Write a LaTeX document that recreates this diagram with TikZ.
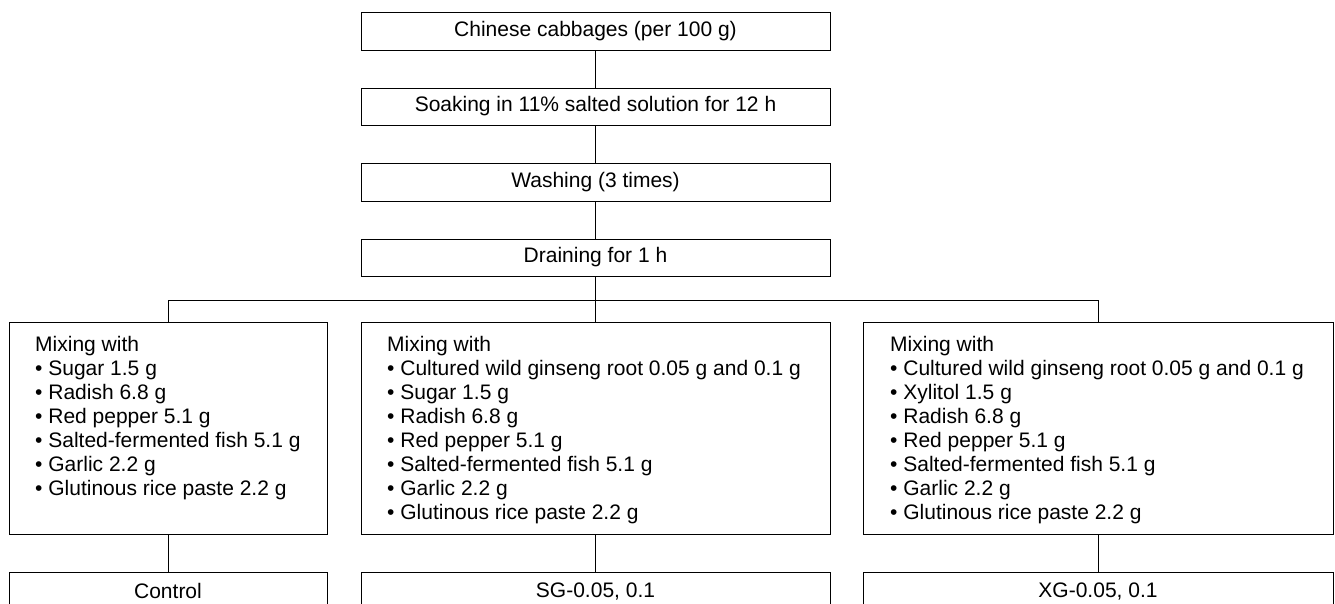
\documentclass[tikz,border=0pt]{standalone}
\usepackage{fontspec}
\setmainfont{Liberation Sans}
\begin{document}
\begin{tikzpicture}[x=1pt,y=-1pt,
  box/.style={draw=black, line width=0.9pt, inner sep=0pt, anchor=center,
    font=\fontsize{21}{24}\selectfont},
  txt/.style={anchor=north west, inner sep=0pt, align=left,
    font=\fontsize{21}{24}\selectfont},
  link/.style={draw=black, line width=0.9pt}]
\clip (0,0) rectangle (1335,603);
% top chain
\node[box, minimum width=469pt, minimum height=38pt] (n1) at (595.5,31) {Chinese cabbages (per 100 g)};
\node[box, minimum width=469pt, minimum height=37pt] (n2) at (595.5,106.5) {Soaking in 11\% salted solution for 12 h};
\node[box, minimum width=469pt, minimum height=38pt] (n3) at (595.5,182) {Washing (3 times)};
\node[box, minimum width=469pt, minimum height=37pt] (n4) at (595.5,257.5) {Draining for 1 h};
% mixing boxes
\node[box, minimum width=318pt, minimum height=212pt] (ml) at (168,428) {};
\node[box, minimum width=469pt, minimum height=212pt] (mm) at (595.5,428) {};
\node[box, minimum width=470pt, minimum height=212pt] (mr) at (1098,428) {};
\node[txt] (tl) at (35,336) {Mixing with\\• Sugar 1.5 g\\• Radish 6.8 g\\• Red pepper 5.1 g\\• Salted-fermented fish 5.1 g\\• Garlic 2.2 g\\• Glutinous rice paste 2.2 g};
\node[txt] (tm) at (387,336) {Mixing with\\• Cultured wild ginseng root 0.05 g and 0.1 g\\• Sugar 1.5 g\\• Radish 6.8 g\\• Red pepper 5.1 g\\• Salted-fermented fish 5.1 g\\• Garlic 2.2 g\\• Glutinous rice paste 2.2 g};
\node[txt] (tr) at (890,336) {Mixing with\\• Cultured wild ginseng root 0.05 g and 0.1 g\\• Xylitol 1.5 g\\• Radish 6.8 g\\• Red pepper 5.1 g\\• Salted-fermented fish 5.1 g\\• Garlic 2.2 g\\• Glutinous rice paste 2.2 g};
% bottom boxes
\node[box, minimum width=318pt, minimum height=38pt] (bl) at (168,591) {Control};
\node[box, minimum width=469pt, minimum height=38pt] (bm) at (595.5,591) {SG-0.05, 0.1};
\node[box, minimum width=470pt, minimum height=38pt] (br) at (1098,591) {XG-0.05, 0.1};
% connectors
\coordinate (bar) at (0,300);
\draw[link] (n1.south) -- (n2.north);
\draw[link] (n2.south) -- (n3.north);
\draw[link] (n3.south) -- (n4.north);
\draw[link] (n4.south) -- (mm.north);
\draw[link] (ml.north) -- (ml.north |- bar) -- (mr.north |- bar) -- (mr.north);
\draw[link] (ml.south) -- (bl.north);
\draw[link] (mm.south) -- (bm.north);
\draw[link] (mr.south) -- (br.north);
\end{tikzpicture}
\end{document}
